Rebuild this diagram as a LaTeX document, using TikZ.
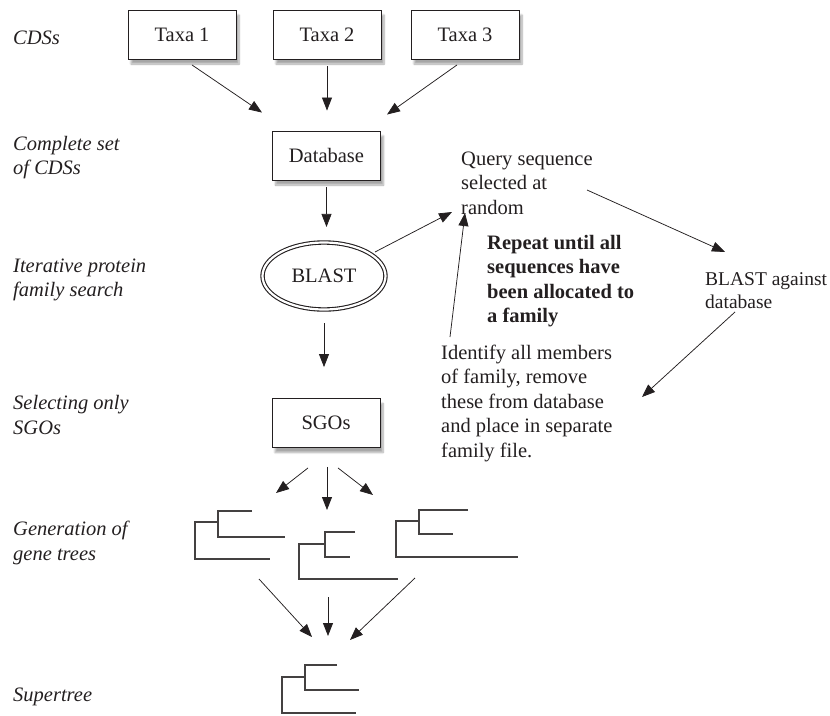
\documentclass[tikz,border=0pt]{standalone}
\usepackage{fontspec}
\setmainfont{Liberation Serif}
\usetikzlibrary{arrows.meta,shapes.geometric,shadows.blur}
\definecolor{ink}{HTML}{231F20}

\begin{document}
\begin{tikzpicture}[x=1pt,y=-1pt,color=ink,
  font=\fontsize{20.5}{24.5}\selectfont,
  box/.style={draw=ink,line width=0.9pt,fill=white,minimum width=108pt,minimum height=49pt,inner sep=0pt,
    blur shadow={shadow xshift=3pt,shadow yshift=-5pt,shadow blur steps=8,shadow opacity=35}},
  arr/.style={-{Triangle[length=13pt,width=10pt]},line width=0.75pt},
  stage/.style={anchor=west,align=left,inner sep=0pt,font=\fontsize{20.5}{24.5}\selectfont\itshape},
  note/.style={anchor=west,align=left,inner sep=0pt},
  tree/.style={line width=1.1pt,draw=ink!85}]
\useasboundingbox (0,0) rectangle (830,715);

% stages on the left
\node[stage] (s1) at (13,38) {CDSs};
\node[stage] (s2) at (13,157.5) {Complete set\\of CDSs};
\node[stage] (s3) at (13,280) {Iterative protein\\family search};
\node[stage] (s4) at (13,415) {Selecting only\\SGOs};
\node[stage] (s5) at (13,543) {Generation of\\gene trees};
\node[stage] (s6) at (13,697) {Supertree};

% main column
\node[box] (taxa1) at (182,34.5) {Taxa 1};
\node[box] (taxa2) at (327,34.5) {Taxa 2};
\node[box] (taxa3) at (465,34.5) {Taxa 3};
\node[box] (db) at (326.5,155.5) {Database};
\node[draw=ink,double,double distance=2.2pt,line width=1.1pt,ellipse,minimum width=123pt,minimum height=67pt,inner sep=0pt] (blast) at (324,276) {BLAST};
\node[box] (sgos) at (326,423) {SGOs};

\draw[arr] ([shift={(10,5.5)}]taxa1.south) -- ([shift={(-64.5,-18)}]db.north);
\draw[arr,shorten <=7pt,shorten >=20pt] (taxa2.south) -- (taxa2.south|-db.north);
\draw[arr] ([shift={(-8,5.5)}]taxa3.south) -- ([shift={(60.5,-16)}]db.north);
\draw[arr,shorten <=7pt,shorten >=15pt] (db.south) -- (db.south|-blast.north);
\draw[arr,shorten <=13pt,shorten >=31pt] (blast.south) -- (blast.south|-sgos.north);

% the search loop
\node[note] (query) at (461,183) {Query sequence\\selected at\\random};
\node[note,font=\fontsize{20.5}{24.5}\selectfont\bfseries] (repeat) at (487,281) {Repeat until all\\sequences have\\been allocated to\\a family};
\node[note,font=\fontsize{19.5}{23}\selectfont] (blastag) at (705,291) {BLAST against\\database};
\node[note] (ident) at (441,403) {Identify all members\\of family, remove\\these from database\\and place in separate\\family file.};

\draw[arr] ([shift={(51,-24)}]blast.center) -- ([shift={(-9,29)}]query.west);
\draw[arr] ([shift={(126,7)}]query.west) -- ([shift={(20,-39)}]blastag.west);
\draw[arr] ([shift={(30,21)}]blastag.west) -- ([shift={(201,-6)}]ident.west);
\draw[arr] ([shift={(9,-66)}]ident.west) -- ([shift={(4,30)}]query.west);

% gene trees
\coordinate (g1) at (276,493);
\coordinate (g2) at (327,510);
\coordinate (g3) at (373,495);
\draw[arr] ([shift={(-18,20)}]sgos.south) -- (g1);
\draw[arr] ([shift={(1,19)}]sgos.south) -- (g2);
\draw[arr] ([shift={(12,20)}]sgos.south) -- (g3);

\draw[tree] (252,511) -- (218,511) -- (218,537) -- (285,537);
\draw[tree] (218,522) -- (195,522) -- (195,559) -- (270,559);
\draw[tree] (355,532) -- (325,532) -- (325,557) -- (350,557);
\draw[tree] (325,544) -- (299,544) -- (299,579) -- (398,579);
\draw[tree] (468,510) -- (419,510) -- (419,534) -- (453,534);
\draw[tree] (419,521) -- (396,521) -- (396,557) -- (518,557);

% supertree
\coordinate (a1) at (259,579);
\coordinate (a2) at (328,597);
\coordinate (a3) at (415,578);
\coordinate (b1) at (312,637);
\coordinate (b2) at (328,636);
\coordinate (b3) at (350,640);
\draw[arr] (a1) -- (b1);
\draw[arr] (a2) -- (b2);
\draw[arr] (a3) -- (b3);

\draw[tree] (337,665) -- (305,665) -- (305,690) -- (359,690);
\draw[tree] (305,677) -- (282,677) -- (282,713) -- (356,713);
\end{tikzpicture}
\end{document}
